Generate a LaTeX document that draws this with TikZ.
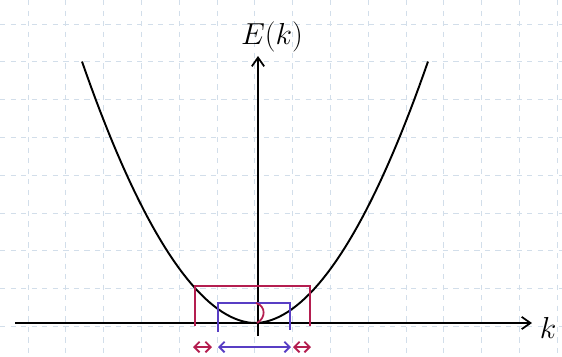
\documentclass[tikz,border=0pt]{standalone}
\usepackage{tikz}
\usetikzlibrary{calc,positioning,arrows.meta}
\usepackage{xcolor}
\definecolor{gridblue}{RGB}{210,222,234}
\definecolor{myred}{RGB}{180,30,80}
\definecolor{myblue}{RGB}{88,62,196}

\begin{document}
\begin{tikzpicture}[x=0.02cm,y=-0.02cm]
  \useasboundingbox (0,0) rectangle (562,356);
  % grid paper
  \foreach \gx in {0,...,14}
    \draw[gridblue, dashed, line width=0.5pt] ({28+37.8*\gx},0) -- ({28+37.8*\gx},356);
  \foreach \gy in {0,...,8}
    \draw[gridblue, dashed, line width=0.5pt] (0,{24+37.8*\gy}) -- (562,{24+37.8*\gy});

  % axes
  \coordinate (kstart) at (15,323);
  \coordinate (kend) at (532,323);
  \coordinate (estart) at (258,336);
  \coordinate (eend) at (258,56);
  \draw[line width=1pt, -{Straight Barb[length=5pt,width=7pt]}] (kstart) -- (kend);
  \draw[line width=1pt, -{Straight Barb[length=5pt,width=7pt]}] (estart) -- (eend);
  \node (elabel) at (272,37) {\LARGE$E(k)$};
  \node (klabel) at (548,328) {\LARGE$k$};

  % dispersion E(k)
  \draw[line width=1.1pt] plot[domain=82:428, samples=80]
    (\x, {323-1.162*(abs(\x-255)/10)^1.9});

  % red box
  \coordinate (ra) at (195,326);
  \coordinate (rb) at (310,326);
  \draw[myred, line width=1.1pt] (ra) -- (195,286) -- (310,286) -- (rb);

  % blue box
  \coordinate (ba) at (218,332);
  \coordinate (bb) at (290,330);
  \draw[myblue, line width=1.1pt] (ba) -- (218,303) -- (290,303) -- (bb);
  \draw[myred, line width=1pt] (256,303) .. controls (266,306) and (266,318) .. (257,323);

  % widths
  \draw[myred, line width=1.1pt, {Straight Barb[length=3pt]}-{Straight Barb[length=3pt]}] (193,347) -- (212,347);
  \draw[myblue, line width=1.1pt, {Straight Barb[length=3pt]}-{Straight Barb[length=3pt]}] (218,347) -- (291,347);
  \draw[myred, line width=1.1pt, {Straight Barb[length=3pt]}-{Straight Barb[length=3pt]}] (293,347) -- (311,347);
\end{tikzpicture}
\end{document}
